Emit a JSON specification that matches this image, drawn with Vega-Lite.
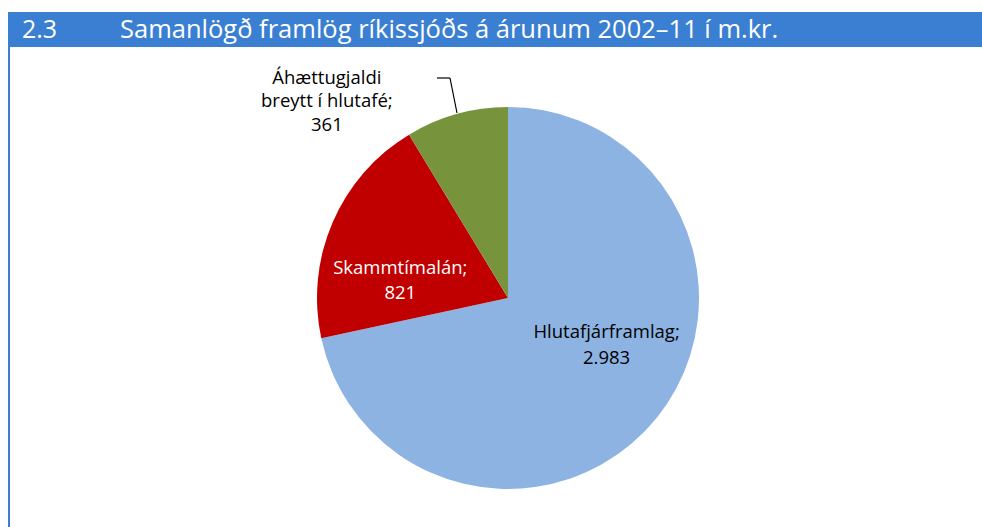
{
  "$schema": "https://vega.github.io/schema/vega-lite/v6.json",
  "width": 982,
  "height": 527,
  "autosize": "none",
  "padding": 0,
  "background": "white",
  "config": {"view": {"stroke": null}, "font": "Open Sans"},
  "datasets": {
    "slices": [
      {"cat": "Hlutafjárframlag", "value": 2983, "label": "Hlutafjárframlag;\n2.983"},
      {"cat": "Skammtímalán", "value": 821, "label": "Skammtímalán;\n821"},
      {"cat": "Áhættugjaldi breytt í hlutafé", "value": 361, "label": "Áhættugjaldi\nbreytt í hlutafé;\n361"}
    ],
    "header": [{"num": "2.3", "title": "Samanlögð framlög ríkissjóðs á árunum 2002–11 í m.kr."}]
  },
  "layer": [
    {
      "data": {"name": "header"},
      "mark": {"type": "rect", "fill": "#3A7FD1"},
      "encoding": {"x": {"value": 8}, "x2": {"value": 982}, "y": {"value": 12}, "y2": {"value": 47}}
    },
    {
      "data": {"name": "header"},
      "mark": {"type": "rule", "stroke": "#3A7FD1", "strokeWidth": 2},
      "encoding": {"x": {"value": 9}, "y": {"value": 47}, "y2": {"value": 527}}
    },
    {
      "data": {"name": "header"},
      "mark": {"type": "text", "x": 22, "y": 30, "align": "left", "baseline": "middle", "fontSize": 25, "color": "white"},
      "encoding": {"text": {"field": "num"}}
    },
    {
      "data": {"name": "header"},
      "mark": {"type": "text", "x": 120, "y": 30, "align": "left", "baseline": "middle", "fontSize": 25.5, "color": "white"},
      "encoding": {"text": {"field": "title"}}
    },
    {
      "data": {"name": "slices"},
      "mark": {"type": "arc", "x": 508, "y": 298, "outerRadius": 191},
      "encoding": {
        "theta": {"field": "value", "type": "quantitative", "stack": true},
        "color": {
          "field": "cat",
          "type": "nominal",
          "scale": {
            "domain": ["Hlutafjárframlag", "Skammtímalán", "Áhættugjaldi breytt í hlutafé"],
            "range": ["#8DB3E2", "#C00000", "#77933C"]
          },
          "legend": null
        }
      }
    },
    {
      "data": {"name": "slices"},
      "mark": {"type": "text", "x": 508, "y": 298, "radius": 110, "dx": 13, "dy": -35, "fontSize": 18.5, "lineHeight": 25.5, "lineBreak": "\n", "color": "black", "align": "center", "baseline": "middle"},
      "encoding": {
        "theta": {"field": "value", "type": "quantitative", "stack": true},
        "detail": {"field": "cat", "type": "nominal"},
        "text": {"condition": {"test": "datum.cat === 'Hlutafjárframlag'", "field": "label", "type": "nominal"}, "value": ""}
      }
    },
    {
      "data": {"name": "slices"},
      "mark": {"type": "text", "x": 508, "y": 298, "radius": 150, "dx": 30, "dy": 29, "fontSize": 18.5, "lineHeight": 25, "lineBreak": "\n", "color": "white", "align": "center", "baseline": "middle"},
      "encoding": {
        "theta": {"field": "value", "type": "quantitative", "stack": true},
        "detail": {"field": "cat", "type": "nominal"},
        "text": {"condition": {"test": "datum.cat === 'Skammtímalán'", "field": "label", "type": "nominal"}, "value": ""}
      }
    },
    {
      "data": {"name": "slices"},
      "mark": {"type": "text", "x": 508, "y": 298, "radius": 205, "dx": -126, "dy": -23, "fontSize": 18.5, "lineHeight": 23.5, "lineBreak": "\n", "color": "black", "align": "center", "baseline": "middle"},
      "encoding": {
        "theta": {"field": "value", "type": "quantitative", "stack": true},
        "detail": {"field": "cat", "type": "nominal"},
        "text": {"condition": {"test": "datum.cat === 'Áhættugjaldi breytt í hlutafé'", "field": "label", "type": "nominal"}, "value": ""}
      }
    },
    {
      "data": {"name": "header"},
      "mark": {"type": "rule", "stroke": "black", "strokeWidth": 1.2},
      "encoding": {"x": {"value": 437}, "x2": {"value": 450}, "y": {"value": 78}}
    },
    {
      "data": {"name": "header"},
      "mark": {"type": "rule", "stroke": "black", "strokeWidth": 1.2},
      "encoding": {"x": {"value": 450}, "x2": {"value": 457}, "y": {"value": 78}, "y2": {"value": 113}}
    }
  ]
}
